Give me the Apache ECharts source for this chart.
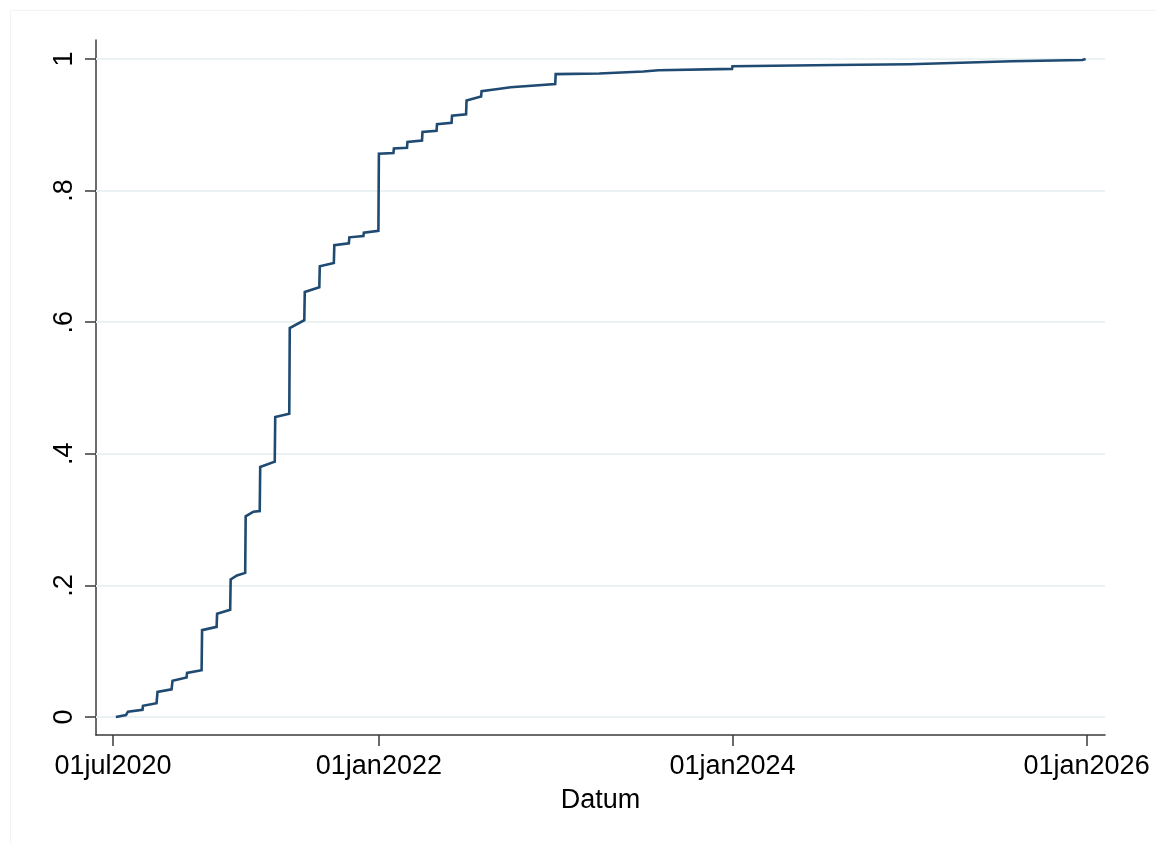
<!DOCTYPE html>
<html>
<head>
<meta charset="utf-8">
<script src="https://cdn.jsdelivr.net/npm/echarts@6/dist/echarts.min.js"></script>
<style>
html,body{margin:0;padding:0;background:#fff;}
#chart{width:1156px;height:843px;}
</style>
</head>
<body>
<div id="chart"></div>
<script>
// ---- data ----
const dates = [
 '2020-07-07','2020-07-28','2020-08-01','2020-08-01','2020-08-31','2020-09-01','2020-09-29','2020-10-01',
 '2020-10-30','2020-11-01','2020-11-30','2020-12-01','2020-12-31','2021-01-01','2021-01-31','2021-02-01',
 '2021-02-28','2021-03-01','2021-03-14','2021-03-31','2021-04-01','2021-04-17','2021-04-30','2021-05-01',
 '2021-05-31','2021-06-01','2021-06-30','2021-07-01','2021-07-31','2021-08-01','2021-08-31','2021-09-01',
 '2021-09-30','2021-10-01','2021-10-31','2021-11-01','2021-11-30','2021-12-01','2021-12-31','2022-01-01',
 '2022-01-31','2022-02-01','2022-02-28','2022-03-01','2022-03-31','2022-04-01','2022-04-30','2022-05-01',
 '2022-05-31','2022-06-01','2022-06-30','2022-07-01','2022-07-31','2022-08-01','2022-08-31','2022-09-01',
 '2022-09-30','2022-10-01','2022-12-31','2023-01-01','2023-04-01','2023-07-01','2023-08-01','2023-12-31',
 '2024-01-01','2024-07-31','2024-12-31','2025-01-01','2025-07-31','2025-08-01','2025-12-23','2025-12-30'
];
const shares = [
 0.000,0.003,0.004,0.008,0.011,0.017,0.021,0.038,
 0.042,0.055,0.060,0.067,0.071,0.132,0.137,0.157,
 0.163,0.209,0.215,0.219,0.305,0.312,0.313,0.380,
 0.388,0.456,0.461,0.591,0.603,0.646,0.653,0.685,
 0.690,0.717,0.720,0.729,0.731,0.736,0.739,0.856,
 0.857,0.864,0.865,0.874,0.876,0.889,0.891,0.901,
 0.903,0.914,0.916,0.937,0.943,0.951,0.954,0.956,
 0.957,0.959,0.962,0.977,0.978,0.981,0.983,0.985,
 0.989,0.991,0.992,0.994,0.9966,0.997,0.9985,1.000
];
const xTickDates = ['2020-07-01','2022-01-01','2024-01-01','2026-01-01'];
const yTicks = [0, 0.2, 0.4, 0.6, 0.8, 1];
const yTickLabels = ['0', '.2', '.4', '.6', '.8', '1'];
const xAxisTitle = 'Datum';

// ---- helpers ----
function ts(s){ const p = s.split('-').map(Number); return Date.UTC(p[0], p[1]-1, p[2]); }
const monthNames = ['jan','feb','mar','apr','may','jun','jul','aug','sep','oct','nov','dec'];
function fmtDate(v){
  const d = new Date(v);
  const dd = String(d.getUTCDate()).padStart(2,'0');
  return dd + monthNames[d.getUTCMonth()] + d.getUTCFullYear();
}
const DAY = 86400000;
const xTicks = xTickDates.map(ts);
const xMin = ts('2020-07-01') - 35*DAY;
const xMax = ts('2026-01-01') + 38*DAY;
const lineData = dates.map((d,i)=>[ts(d), shares[i]]);

const FONT = '"Liberation Sans", Arial, sans-serif';
const AX = '#3a3a3a';

const chart = echarts.init(document.getElementById('chart'), null, {renderer:'canvas'});
chart.setOption({
  backgroundColor: '#ffffff',
  animation: false,
  graphic: [{
    type: 'rect', silent: true, z: -10,
    shape: {x: 10.5, y: 10.5, width: 1170, height: 860},
    style: {fill: 'none', stroke: '#f3f3f3', lineWidth: 1}
  }],
  grid: {left: 96, right: 51, top: 40, bottom: 108, containLabel: false, outerBoundsMode: 'none'},
  xAxis: {
    type: 'value',
    min: xMin, max: xMax,
    splitLine: {show: false},
    axisLine: {show: true, onZero: false, lineStyle: {color: AX, width: 1.5}},
    axisTick: {show: true, length: 11, customValues: xTicks, lineStyle: {color: AX, width: 1.5}},
    axisLabel: {
      customValues: xTicks, formatter: fmtDate, margin: 18,
      fontFamily: FONT, fontSize: 27, color: '#000'
    },
    name: xAxisTitle, nameLocation: 'middle', nameGap: 52,
    nameTextStyle: {fontFamily: FONT, fontSize: 27, color: '#000'}
  },
  yAxis: {
    type: 'value',
    min: -0.0274, max: 1.0289,
    splitLine: {show: false},
    axisLine: {show: true, onZero: false, lineStyle: {color: AX, width: 1.5}},
    axisTick: {show: true, length: 11, customValues: yTicks, lineStyle: {color: AX, width: 1.5}},
    axisLabel: {
      customValues: yTicks, rotate: 90, margin: 18,
      formatter: function(v){ const i = yTicks.findIndex(t => Math.abs(t - v) < 1e-9); return i >= 0 ? yTickLabels[i] : ''; },
      fontFamily: FONT, fontSize: 27, color: '#000'
    }
  },
  series: [
    {
      type: 'line', data: [], z: 1, silent: true,
      markLine: {
        silent: true, symbol: ['none','none'], label: {show: false},
        lineStyle: {color: '#eaf2f3', width: 2, type: 'solid'},
        data: yTicks.map(v => ({yAxis: v}))
      }
    },
    {
      type: 'line', data: lineData, z: 5,
      showSymbol: false, symbol: 'none',
      lineStyle: {color: '#1f4a72', width: 2.6, join: 'miter'},
      itemStyle: {color: '#1f4a72'}
    }
  ]
});
</script>
</body>
</html>
